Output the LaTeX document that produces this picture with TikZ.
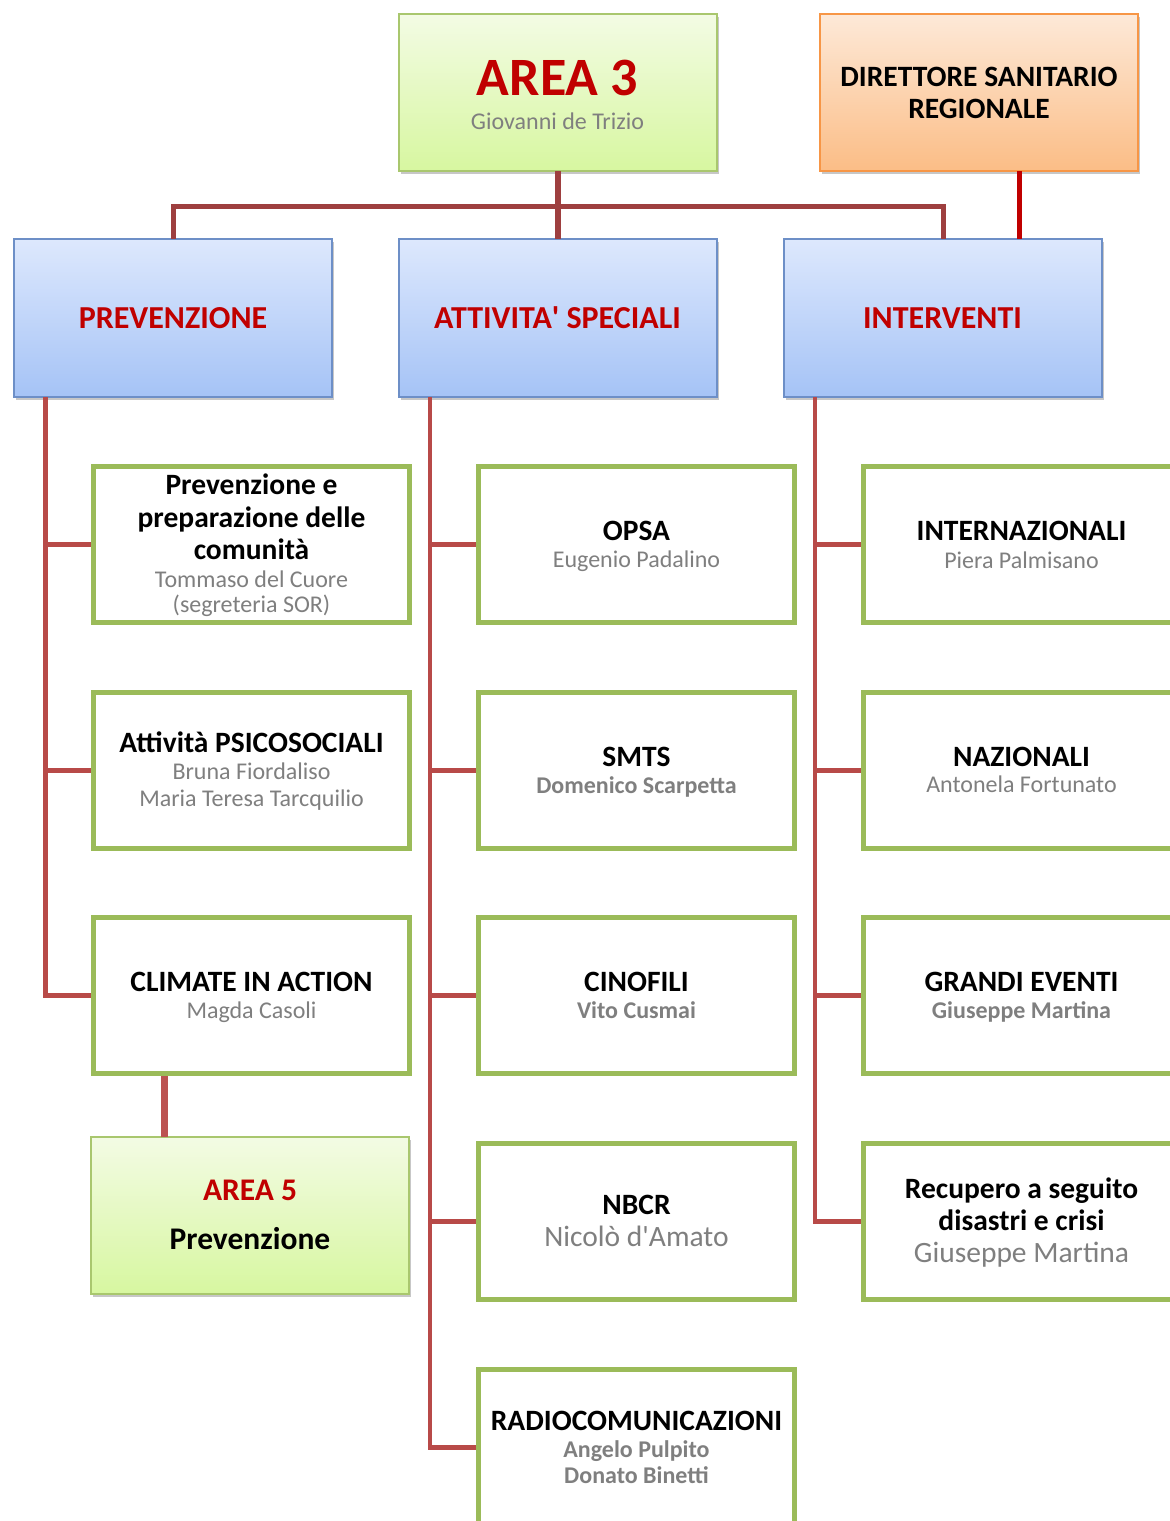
\documentclass[tikz,border=0pt]{standalone}
\usepackage{fontspec}
\setmainfont{Carlito}
\usetikzlibrary{shadows}
\definecolor{redtxt}{HTML}{C00000}
\definecolor{graytxt}{HTML}{7F7F7F}
\definecolor{grnbd}{HTML}{9BBB59}
\definecolor{grnbdl}{HTML}{A9C76E}
\definecolor{grntop}{HTML}{F3FBE4}
\definecolor{grnbot}{HTML}{D7F7A0}
\definecolor{orbd}{HTML}{F79646}
\definecolor{ortop}{HTML}{FDE9D8}
\definecolor{orbot}{HTML}{FBBD86}
\definecolor{blbd}{HTML}{6D8FC7}
\definecolor{bltop}{HTML}{DDE8FD}
\definecolor{blbot}{HTML}{A5C3F6}
\definecolor{busc}{HTML}{9E3F3F}
\definecolor{trunkc}{HTML}{B84A48}
\definecolor{dirc}{HTML}{C00000}
\tikzset{
  boxshadow/.style={drop shadow={shadow xshift=1.5pt,shadow yshift=-3pt,opacity=0.22,fill=black}},
  areabox/.style={draw=grnbdl,line width=2pt,top color=grntop,bottom color=grnbot,boxshadow},
  dirbox/.style={draw=orbd,line width=2pt,top color=ortop,bottom color=orbot,boxshadow},
  lvbox/.style={draw=blbd,line width=2pt,top color=bltop,bottom color=blbot,boxshadow},
  unitbox/.style={draw=grnbd,line width=5pt,fill=white},
  txt/.style={anchor=base,inner sep=0pt,align=center},
  ttl/.style={txt,font=\bfseries\fontsize{29.5}{33}\selectfont},
  nm/.style={txt,text=graytxt,font=\fontsize{24}{27}\selectfont},
  nmb/.style={txt,text=graytxt,font=\bfseries\fontsize{24}{27}\selectfont},
  nml/.style={txt,text=graytxt,font=\fontsize{29.5}{33}\selectfont},
  lvl/.style={txt,text=redtxt,font=\bfseries\fontsize{32}{36}\selectfont},
  bus/.style={draw=busc,line width=5pt},
  trunk/.style={draw=trunkc,line width=4.5pt},
}
\begin{document}
\begin{tikzpicture}[x=1pt,y=-1pt]
\clip (0,0) rectangle (1170,1521);
\fill[white] (0,0) rectangle (1170,1521);

\coordinate (bus) at (557.5,206);

% ---- top boxes
\path[areabox] (399,14) rectangle (717,171);
\node[inner sep=0pt,minimum width=318pt,minimum height=157pt] (area3) at (558,92.5) {};
\path[dirbox] (820,14) rectangle (1138,171);
\node[inner sep=0pt,minimum width=318pt,minimum height=157pt] (dir) at (979,92.5) {};

\node[txt,text=redtxt,font=\bfseries\fontsize{54}{60}\selectfont] (a3t) at (557.5,95) {AREA 3};
\node[txt,text=graytxt,font=\fontsize{24}{28}\selectfont] (a3n) at (557.5,129) {Giovanni de Trizio};
\node[ttl] (dirt1) at (979,86) {DIRETTORE SANITARIO};
\node[ttl] (dirt2) at (979,118) {REGIONALE};

% ---- level 2 boxes
\path[lvbox] (14,239) rectangle (332,397);
\node[inner sep=0pt,minimum width=318pt,minimum height=158pt] (prev) at (173,318) {};
\path[lvbox] (399,239) rectangle (717,397);
\node[inner sep=0pt,minimum width=318pt,minimum height=158pt] (att) at (558,318) {};
\path[lvbox] (784,239) rectangle (1102,397);
\node[inner sep=0pt,minimum width=318pt,minimum height=158pt] (int) at (943,318) {};

\node[lvl] (prevt) at (173,328.5) {PREVENZIONE};
\node[lvl] (attt) at (557.5,328.5) {ATTIVITA\textquotesingle\ SPECIALI};
\node[lvl] (intt) at (942.5,328.5) {INTERVENTI};

% top connectors
\draw[bus,line width=6pt] (area3.south) -- (att.north);
\draw[bus] (prev.north) |- (bus) -| (int.north);
\coordinate (dirdrop) at ([xshift=40pt]dir.south);
\draw[draw=dirc,line width=5pt] (dirdrop) -- (dirdrop |- int.north);

% ---- unit boxes
\node[unitbox,minimum width=316pt,minimum height=156pt,inner sep=0pt] (c11) at (251.5,544.5) {};
\node[unitbox,minimum width=316pt,minimum height=156pt,inner sep=0pt] (c12) at (251.5,770.5) {};
\node[unitbox,minimum width=316pt,minimum height=156pt,inner sep=0pt] (c13) at (251.5,995.5) {};
\node[unitbox,minimum width=316pt,minimum height=156pt,inner sep=0pt] (c21) at (636.5,544.5) {};
\node[unitbox,minimum width=316pt,minimum height=156pt,inner sep=0pt] (c22) at (636.5,770.5) {};
\node[unitbox,minimum width=316pt,minimum height=156pt,inner sep=0pt] (c23) at (636.5,995.5) {};
\node[unitbox,minimum width=316pt,minimum height=156pt,inner sep=0pt] (c24) at (636.5,1221.5) {};
\node[unitbox,minimum width=316pt,minimum height=156pt,inner sep=0pt] (c25) at (636.5,1447.5) {};
\node[unitbox,minimum width=316pt,minimum height=156pt,inner sep=0pt] (c31) at (1021.5,544.5) {};
\node[unitbox,minimum width=316pt,minimum height=156pt,inner sep=0pt] (c32) at (1021.5,770.5) {};
\node[unitbox,minimum width=316pt,minimum height=156pt,inner sep=0pt] (c33) at (1021.5,995.5) {};
\node[unitbox,minimum width=316pt,minimum height=156pt,inner sep=0pt] (c34) at (1021.5,1221.5) {};

% ---- AREA 5
\path[areabox] (91,1137) rectangle (409,1294);
\node[inner sep=0pt,minimum width=318pt,minimum height=157pt] (area5) at (250,1215.5) {};
\node[txt,text=redtxt,font=\bfseries\fontsize{31.5}{36}\selectfont] (a5t) at (250,1200) {AREA 5};
\node[txt,font=\bfseries\fontsize{31.5}{36}\selectfont] (a5n) at (250,1249) {Prevenzione};

% ---- trunks and branches
\coordinate (pt) at ([xshift=31.5pt]prev.south west);
\coordinate (at) at ([xshift=31pt]att.south west);
\coordinate (it) at ([xshift=31pt]int.south west);
\draw[trunk] (pt) |- (c13.west);
\draw[trunk] (pt |- c11.west) -- (c11.west);
\draw[trunk] (pt |- c12.west) -- (c12.west);
\draw[trunk] (at) |- (c25.west);
\draw[trunk] (at |- c21.west) -- (c21.west);
\draw[trunk] (at |- c22.west) -- (c22.west);
\draw[trunk] (at |- c23.west) -- (c23.west);
\draw[trunk] (at |- c24.west) -- (c24.west);
\draw[trunk] (it) |- (c34.west);
\draw[trunk] (it |- c31.west) -- (c31.west);
\draw[trunk] (it |- c32.west) -- (c32.west);
\draw[trunk] (it |- c33.west) -- (c33.west);
\coordinate (a5top) at ([xshift=73.5pt]c13.south west);
\draw[draw=trunkc!95!white,line width=7pt] (a5top) -- (a5top |- area5.north);

% ---- unit texts
\node[ttl] (t11a) at (251.5,494) {Prevenzione e};
\node[ttl] (t11b) at (251.5,527) {preparazione delle};
\node[ttl] (t11c) at (251.5,559.5) {comunità};
\node[nm] (t11d) at (251.5,587.5) {Tommaso del Cuore};
\node[nm] (t11e) at (251.5,612.5) {(segreteria SOR)};
\node[ttl] (t21a) at (636.5,540.5) {OPSA};
\node[nm] (t21b) at (636.5,567.5) {Eugenio Padalino};
\node[ttl] (t31a) at (1021.5,540.5) {INTERNAZIONALI};
\node[nm] (t31b) at (1021.5,568.5) {Piera Palmisano};
\node[ttl] (t12a) at (251.5,752.5) {Attività PSICOSOCIALI};
\node[nm] (t12b) at (251.5,779.5) {Bruna Fiordaliso};
\node[nm] (t12c) at (251.5,806.5) {Maria Teresa Tarcquilio};
\node[ttl] (t22a) at (636.5,766.5) {SMTS};
\node[nmb] (t22b) at (636.5,793.5) {Domenico Scarpetta};
\node[ttl] (t32a) at (1021.5,766.5) {NAZIONALI};
\node[nm] (t32b) at (1021.5,792.5) {Antonela Fortunato};
\node[ttl] (t13a) at (251.5,991.5) {CLIMATE IN ACTION};
\node[nm] (t13b) at (251.5,1018.5) {Magda Casoli};
\node[ttl] (t23a) at (636.5,991.5) {CINOFILI};
\node[nmb] (t23b) at (636.5,1018.5) {Vito Cusmai};
\node[ttl] (t33a) at (1021.5,991.5) {GRANDI EVENTI};
\node[nmb] (t33b) at (1021.5,1018.5) {Giuseppe Martina};
\node[ttl] (t24a) at (636.5,1214.5) {NBCR};
\node[nml] (t24b) at (636.5,1246.5) {Nicolò d\textquotesingle Amato};
\node[ttl] (t34a) at (1021.5,1198.5) {Recupero a seguito};
\node[ttl] (t34b) at (1021.5,1230.5) {disastri e crisi};
\node[nml] (t34c) at (1021.5,1262.5) {Giuseppe Martina};
\node[ttl] (t25a) at (636.5,1430.5) {RADIOCOMUNICAZIONI};
\node[nmb] (t25b) at (636.5,1457.5) {Angelo Pulpito};
\node[nmb] (t25c) at (636.5,1483.5) {Donato Binetti};
\end{tikzpicture}
\end{document}
